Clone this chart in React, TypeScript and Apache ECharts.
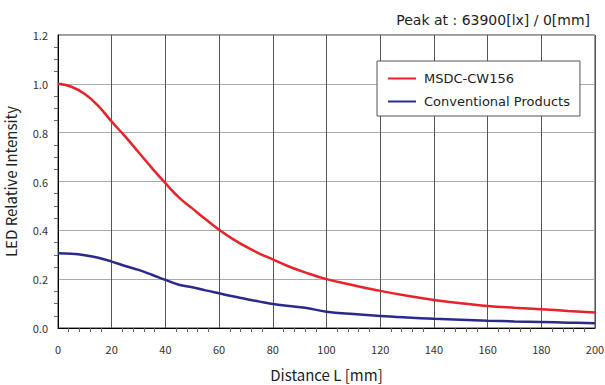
import React, { useEffect, useRef } from "react";
import * as echarts from "echarts";

const distances = [0, 5, 10, 15, 20, 25, 30, 35, 40, 45, 50, 55, 60, 65, 70, 75, 80, 86, 92, 100, 110, 120, 130, 140, 150, 160, 170, 180, 190, 200];
const msdcValues = [1.0, 0.988, 0.958, 0.91, 0.845, 0.785, 0.72, 0.655, 0.593, 0.535, 0.49, 0.445, 0.402, 0.365, 0.333, 0.305, 0.281, 0.252, 0.228, 0.2, 0.175, 0.152, 0.132, 0.115, 0.101, 0.09, 0.083, 0.077, 0.07, 0.063];
const conventionalValues = [0.306, 0.304, 0.298, 0.288, 0.272, 0.254, 0.238, 0.218, 0.197, 0.177, 0.167, 0.154, 0.142, 0.13, 0.119, 0.108, 0.098, 0.09, 0.083, 0.067, 0.057, 0.049, 0.043, 0.038, 0.034, 0.03, 0.027, 0.025, 0.022, 0.019];
const seriesNames = ["MSDC-CW156", "Conventional Products"];
const titleText = "Peak at : 63900[lx] / 0[mm]";
const xName = "Distance L [mm]";
const yName = "LED Relative Intensity";

const FONT = "'Noto Sans CJK JP', 'Noto Sans', sans-serif";
const WIDE = "'DejaVu Sans', sans-serif";

export default function App() {
  const ref = useRef<HTMLDivElement>(null);
  useEffect(() => {
    if (!ref.current) return;
    const chart = echarts.init(ref.current, null, { renderer: "svg" });
    const toPairs = (ys: number[]) => distances.map((x, i) => [x, ys[i]]);
    chart.setOption({
      animation: false,
      backgroundColor: "#fff",
      textStyle: { fontFamily: FONT },
      title: {
        text: titleText,
        right: 10,
        top: 8,
        textStyle: { fontSize: 14, fontWeight: "normal", color: "#222", fontFamily: WIDE },
      },
      legend: {
        left: 377,
        top: 61,
        orient: "vertical",
        data: seriesNames,
        icon: "rect",
        itemWidth: 28,
        itemHeight: 2,
        itemGap: 10,
        padding: [11, 10, 8, 11],
        borderColor: "#555",
        borderWidth: 1,
        backgroundColor: "#fff",
        textStyle: { fontSize: 13, color: "#222", fontFamily: WIDE, padding: [0, 0, 0, 3] },
      },
      grid: { left: 58, right: 10, top: 35, bottom: 57, show: true, borderColor: "#333", borderWidth: 1, outerBoundsMode: "none", containLabel: false },
      xAxis: {
        type: "value",
        min: 0,
        max: 200,
        interval: 20,
        name: xName,
        nameLocation: "middle",
        nameGap: 39,
        nameTextStyle: { fontSize: 15, color: "#222", fontFamily: FONT },
        axisLine: { lineStyle: { color: "#000", width: 1 } },
        axisTick: { show: false },
        minorTick: { show: true, splitNumber: 5, length: 4, lineStyle: { color: "#666" } },
        axisLabel: { fontSize: 11, color: "#333", margin: 15, fontFamily: FONT },
        splitLine: { show: true, lineStyle: { color: "#555", width: 1 } },
      },
      yAxis: {
        type: "value",
        min: 0,
        max: 1.2,
        interval: 0.2,
        name: yName,
        nameLocation: "middle",
        nameGap: 40,
        nameTextStyle: { fontSize: 15, color: "#222", fontFamily: FONT },
        axisLine: { show: true, lineStyle: { color: "#000", width: 1 } },
        axisTick: { show: false },
        minorTick: { show: true, splitNumber: 4, length: 4, lineStyle: { color: "#666" } },
        axisLabel: { fontSize: 11, color: "#333", margin: 10, fontFamily: FONT, formatter: (v: number) => v.toFixed(1) },
        splitLine: { show: true, lineStyle: { color: "#aaa", width: 1 } },
      },
      series: [
        {
          name: seriesNames[0],
          type: "line",
          data: toPairs(msdcValues),
          smooth: 0.4,
          symbol: "none",
          lineStyle: { color: "#e8222a", width: 2.5 },
          itemStyle: { color: "#e8222a" },
        },
        {
          name: seriesNames[1],
          type: "line",
          data: toPairs(conventionalValues),
          smooth: 0.4,
          symbol: "none",
          lineStyle: { color: "#2a2a8c", width: 2.5 },
          itemStyle: { color: "#2a2a8c" },
        },
      ],
    });
    return () => chart.dispose();
  }, []);
  return <div ref={ref} style={{ position: "fixed", left: 0, top: 0, width: 605, height: 385 }} />;
}
